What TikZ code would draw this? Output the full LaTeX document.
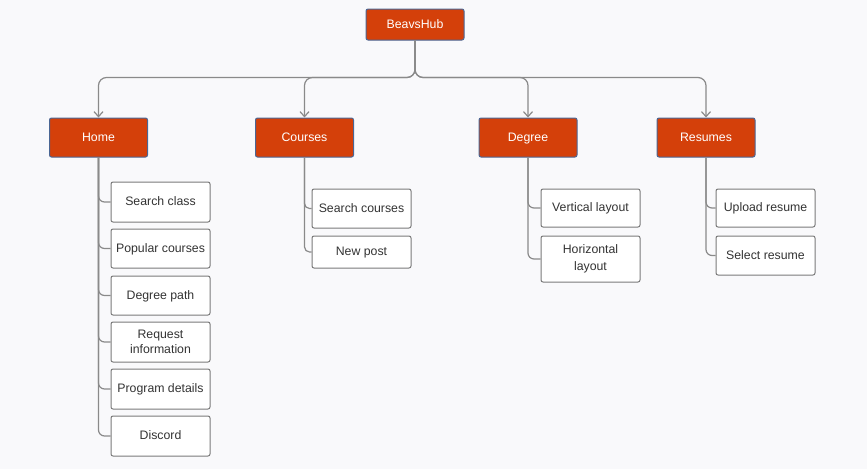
\documentclass[tikz,border=0pt]{standalone}
\usepackage{fontspec}
\setmainfont{Liberation Sans}
\usetikzlibrary{arrows.meta}
\definecolor{bg}{HTML}{F9F9FB}
\definecolor{mainfill}{HTML}{D4400A}
\definecolor{mainborder}{HTML}{4A6694}
\definecolor{leafborder}{HTML}{7A7A7A}
\definecolor{linecol}{HTML}{8A8A8A}
\definecolor{txt}{HTML}{333333}
\newcommand{\fsz}{\fontsize{12.3}{14.5}\selectfont}
\tikzset{
  mainbox/.style={draw=mainborder, fill=mainfill, text=white, rounded corners=2, line width=1, minimum width=98, minimum height=39, inner sep=0, font=\fsz, text height=9, text depth=2},
  leafbox/.style={draw=leafborder, fill=white, text=txt, rounded corners=2, line width=1, minimum width=99, minimum height=39, inner sep=0, align=center, font=\fsz},
  oneline/.style={text height=9, text depth=2},
  conn/.style={draw=linecol, line width=1.2, rounded corners=8},
  branch/.style={draw=linecol, line width=1.2, rounded corners=6},
  tip/.style={-{Straight Barb[length=5pt,width=9pt]}}
}
\begin{document}
\begin{tikzpicture}[x=1pt,y=-1pt]
\fill[bg] (0,0) rectangle (867,469);
\useasboundingbox (0,0) rectangle (867,469);

\node[mainbox, minimum height=31] (hub) at (415,24.5) {BeavsHub};
\node[mainbox] (home) at (98.5,137.5) {Home};
\node[mainbox] (courses) at (304.5,137.5) {Courses};
\node[mainbox] (degree) at (528,137.5) {Degree};
\node[mainbox] (resumes) at (706,137.5) {Resumes};

% Home leaves
\node[leafbox, oneline, minimum height=40] (h1) at (160.5,202) {Search class};
\node[leafbox, oneline] (h2) at (160.5,248.5) {Popular courses};
\node[leafbox, oneline] (h3) at (160.5,295.5) {Degree path};
\node[leafbox, minimum height=40] (h4) at (160.5,342) {Request\\information};
\node[leafbox, oneline, minimum height=40] (h5) at (160.5,389) {Program details};
\node[leafbox, oneline, minimum height=40] (h6) at (160.5,436) {Discord};

% Courses leaves
\node[leafbox, oneline] (c1) at (361.5,208.5) {Search courses};
\node[leafbox, oneline, minimum height=32] (c2) at (361.5,252) {New post};

% Degree leaves
\node[leafbox, oneline, minimum height=38] (d1) at (590.5,208) {Vertical layout};
\node[leafbox, minimum height=46] (d2) at (590.5,259) {Horizontal\\[3pt]layout};

% Resumes leaves
\node[leafbox, oneline, minimum height=38] (r1) at (765.5,208) {Upload resume};
\node[leafbox, oneline] (r2) at (765.5,255.5) {Select resume};

% top connectors
\draw[conn, tip] (hub.south) -- ++(0,37) -| (home.north);
\draw[conn, tip] (hub.south) -- ++(0,37) -| (courses.north);
\draw[conn, tip] (hub.south) -- ++(0,37) -| (degree.north);
\draw[conn, tip] (hub.south) -- ++(0,37) -| (resumes.north);

% branches
\foreach \c in {h1,h2,h3,h4,h5,h6}
  \draw[branch] (home.south) |- (\c.west);
\foreach \c in {c1,c2}
  \draw[branch, rounded corners=5] (courses.south) |- (\c.west);
\foreach \c in {d1,d2}
  \draw[branch] (degree.south) |- (\c.west);
\foreach \c in {r1,r2}
  \draw[branch] (resumes.south) |- (\c.west);
\end{tikzpicture}
\end{document}
